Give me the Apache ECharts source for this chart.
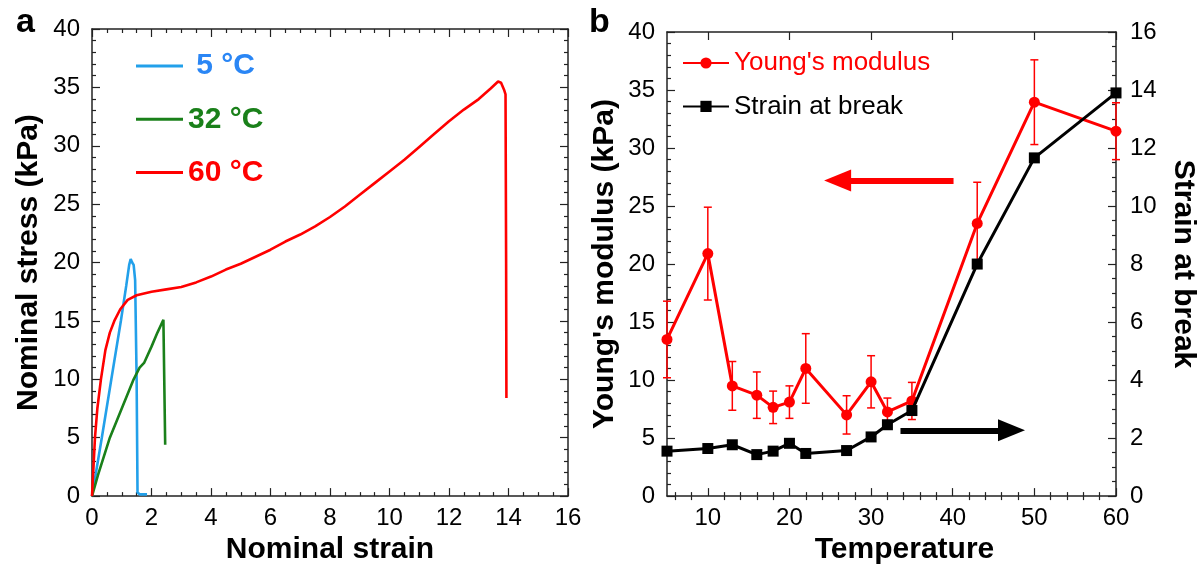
<!DOCTYPE html>
<html><head><meta charset="utf-8">
<script src="https://cdn.jsdelivr.net/npm/echarts@6/dist/echarts.min.js"></script>
<style>html,body{margin:0;padding:0;background:#fff}#c{width:1199px;height:570px}</style>
</head><body><div id="c"></div>
<script>
// ---------- Panel a: stress-strain curves ----------
const curve5C_strain  = [0, 0.1, 0.33, 0.65, 0.97, 1.15, 1.25, 1.3, 1.35, 1.4, 1.45, 1.5, 1.53, 1.6, 1.85];
const curve5C_stress  = [0, 1.5, 5, 10, 15, 18, 19.8, 20.3, 20.0, 19.8, 18.5, 10, 0.3, 0.15, 0.15];
const curve32C_strain = [0, 0.2, 0.6, 1.0, 1.4, 1.6, 1.75, 2.0, 2.2, 2.4, 2.46];
const curve32C_stress = [0, 1.8, 5, 7.5, 10, 11, 11.4, 12.8, 14, 15.1, 4.4];
const curve60C_strain = [0, 0.05, 0.1, 0.18, 0.3, 0.45, 0.6, 0.75, 0.95, 1.2, 1.5, 2, 2.5, 3, 3.5, 4, 4.5, 5, 5.5, 6, 6.5, 7, 7.5, 8, 8.5, 9, 9.5, 10, 10.5, 11, 11.5, 12, 12.5, 13, 13.4, 13.65, 13.75, 13.85, 13.9, 13.92, 13.93];
const curve60C_stress = [0, 2.5, 5, 7.5, 10, 12.5, 14, 15, 16, 16.8, 17.2, 17.5, 17.7, 17.9, 18.3, 18.8, 19.4, 19.9, 20.5, 21.1, 21.8, 22.4, 23.1, 23.9, 24.8, 25.8, 26.8, 27.8, 28.8, 29.9, 31.0, 32.1, 33.1, 34.0, 34.9, 35.5, 35.4, 34.8, 34.4, 20, 8.4];
const curveNames = [' 5 °C', '32 °C', '60 °C'];

// ---------- Panel b: temperature dependence ----------
const temperature   = [5, 10, 13, 16, 18, 20, 22, 27, 30, 32, 35, 43, 50, 60];
const youngsModulus = [13.5, 20.9, 9.5, 8.7, 7.65, 8.1, 11.0, 7.0, 9.85, 7.25, 8.2, 23.5, 33.95, 31.45];
const youngsError   = [3.3, 4.0, 2.1, 2.0, 1.4, 1.4, 3.0, 1.65, 2.25, 1.2, 1.6, 3.55, 3.65, 2.45];
const strainAtBreak = [1.55, 1.64, 1.77, 1.43, 1.55, 1.82, 1.47, 1.57, 2.04, 2.46, 2.95, 8.0, 11.66, 13.9];
const tempMajorTicks = [10, 20, 30, 40, 50, 60];
const tempMinorTicks = [6, 8, 12, 14, 16, 18, 22, 24, 26, 28, 32, 34, 36, 38, 42, 44, 46, 48, 52, 54, 56, 58];
// annotation arrows (data coordinates: [temperature, value])
const redArrow   = [[40.1, 27.2], [25.9, 27.2]];   // on Young's modulus axis
const blackArrow = [[33.6, 2.27], [47.2, 2.27]];   // on strain-at-break axis

const FONT = "'Liberation Sans', Arial, sans-serif";
const zip = (a, b) => a.map((v, i) => [v, b[i]]);
const AXC = '#222';

function baseAxis(extra) {
  return Object.assign({
    axisLine: {show: true, onZero: false, lineStyle: {color: AXC, width: 1.5}},
    axisTick: {show: true, inside: true, length: 8, lineStyle: {color: AXC, width: 1.2}},
    minorTick: {show: true, length: 4, lineStyle: {color: AXC, width: 1.2}},
    splitLine: {show: false},
    axisLabel: {color: '#000', fontSize: 24, fontFamily: FONT},
    nameTextStyle: {color: '#000', fontSize: 30, fontWeight: 'bold', fontFamily: FONT}
  }, extra);
}

const chart = echarts.init(document.getElementById('c'), null, {renderer: 'canvas'});
const option = {
  animation: false,
  backgroundColor: '#fff',
  grid: [
    {left: 92, top: 29, width: 476, height: 475},
    {left: 667, top: 32, width: 451, height: 474}
  ],
  graphic: [
    {type: 'text', left: 16, top: 6, style: {text: 'a', font: 'bold 34px ' + FONT, fill: '#000'}},
    {type: 'text', left: 589, top: 6, style: {text: 'b', font: 'bold 34px ' + FONT, fill: '#000'}}
  ],
  legend: [
    {
      orient: 'vertical', left: 136, top: 50, padding: 0, icon: 'rect',
      itemWidth: 47, itemHeight: 3, itemGap: 21.3,
      selectedMode: false,
      data: [
        {name: curveNames[0], textStyle: {color: '#2a86f5'}},
        {name: curveNames[1], textStyle: {color: '#1a801a'}},
        {name: curveNames[2], textStyle: {color: '#ff0000'}}
      ],
      textStyle: {fontSize: 30, fontWeight: 'bold', fontFamily: FONT, lineHeight: 32}
    },
    {
      orient: 'vertical', left: 682, top: 49, padding: 0,
      itemWidth: 46, itemHeight: 14, itemGap: 15.4,
      selectedMode: false,
      data: [
        {name: "Young's modulus", textStyle: {color: '#ff0000'}},
        {name: 'Strain at break', textStyle: {color: '#000'}}
      ],
      textStyle: {fontSize: 26, fontFamily: FONT, lineHeight: 28}
    }
  ],
  xAxis: [
    baseAxis({gridIndex: 0, type: 'value', position: 'bottom', min: 0, max: 16, interval: 2,
      minorTick: {show: true, splitNumber: 4, length: 4, lineStyle: {color: AXC, width: 1.2}},
      axisLabel: {color: '#000', fontSize: 24, fontFamily: FONT, margin: 10},
      name: 'Nominal strain', nameLocation: 'middle', nameGap: 36}),
    baseAxis({gridIndex: 0, type: 'value', position: 'top', min: 0, max: 16, interval: 2,
      minorTick: {show: true, splitNumber: 4, length: 4, lineStyle: {color: AXC, width: 1.2}},
      axisLabel: {show: false}}),
    baseAxis({gridIndex: 1, type: 'value', position: 'bottom', min: 5, max: 60,
      axisTick: {show: true, inside: true, length: 8, customValues: tempMajorTicks, lineStyle: {color: AXC, width: 1.2}},
      minorTick: {show: false},
      axisLabel: {color: '#000', fontSize: 24, fontFamily: FONT, margin: 10, customValues: tempMajorTicks},
      name: 'Temperature', nameLocation: 'middle', nameGap: 36,
      nameTextStyle: {color: '#000', fontSize: 30, fontWeight: 'bold', fontFamily: FONT, padding: [0, 0, 0, 26]}}),
    baseAxis({gridIndex: 1, type: 'value', position: 'bottom', min: 5, max: 60,
      axisLine: {show: false},
      axisTick: {show: true, inside: true, length: 4, customValues: tempMinorTicks, lineStyle: {color: AXC, width: 1.2}},
      minorTick: {show: false}, axisLabel: {show: false}}),
    baseAxis({gridIndex: 1, type: 'value', position: 'top', min: 5, max: 60,
      axisTick: {show: true, inside: true, length: 8, customValues: tempMajorTicks, lineStyle: {color: AXC, width: 1.2}},
      minorTick: {show: false}, axisLabel: {show: false}}),
    baseAxis({gridIndex: 1, type: 'value', position: 'top', min: 5, max: 60,
      axisLine: {show: false},
      axisTick: {show: true, inside: true, length: 4, customValues: tempMinorTicks, lineStyle: {color: AXC, width: 1.2}},
      minorTick: {show: false}, axisLabel: {show: false}})
  ],
  yAxis: [
    baseAxis({gridIndex: 0, type: 'value', position: 'left', min: 0, max: 40, interval: 5,
      minorTick: {show: true, splitNumber: 5, length: 4, lineStyle: {color: AXC, width: 1.2}},
      axisLabel: {color: '#000', fontSize: 24, fontFamily: FONT, margin: 12},
      name: 'Nominal stress (kPa)', nameLocation: 'middle', nameGap: 48}),
    baseAxis({gridIndex: 0, type: 'value', position: 'right', min: 0, max: 40, interval: 5,
      minorTick: {show: true, splitNumber: 5, length: 4, lineStyle: {color: AXC, width: 1.2}},
      axisLabel: {show: false}}),
    baseAxis({gridIndex: 1, type: 'value', position: 'left', min: 0, max: 40, interval: 5,
      minorTick: {show: true, splitNumber: 5, length: 4, lineStyle: {color: AXC, width: 1.2}},
      axisLabel: {color: '#000', fontSize: 24, fontFamily: FONT, margin: 12},
      name: "Young's modulus (kPa)", nameLocation: 'middle', nameGap: 47}),
    baseAxis({gridIndex: 1, type: 'value', position: 'right', min: 0, max: 16, interval: 2,
      minorTick: {show: true, splitNumber: 4, length: 4, lineStyle: {color: AXC, width: 1.2}},
      axisLabel: {color: '#000', fontSize: 24, fontFamily: FONT, margin: 14},
      name: 'Strain at break', nameLocation: 'middle', nameGap: 52, nameRotate: -90})
  ],
  series: [
    {name: curveNames[0], type: 'line', xAxisIndex: 0, yAxisIndex: 0, symbol: 'none', smooth: false,
      data: zip(curve5C_strain, curve5C_stress), color: '#22a0ea', lineStyle: {width: 2.6, color: '#22a0ea'}},
    {name: curveNames[1], type: 'line', xAxisIndex: 0, yAxisIndex: 0, symbol: 'none',
      data: zip(curve32C_strain, curve32C_stress), color: '#1a801a', lineStyle: {width: 2.6, color: '#1a801a'}},
    {name: curveNames[2], type: 'line', xAxisIndex: 0, yAxisIndex: 0, symbol: 'none',
      data: zip(curve60C_strain, curve60C_stress), color: '#ff0000', lineStyle: {width: 2.6, color: '#ff0000'}},
    {name: 'errors', type: 'custom', xAxisIndex: 2, yAxisIndex: 2, clip: false, z: 3,
      data: temperature.map((t, i) => [t, youngsModulus[i] - youngsError[i], youngsModulus[i] + youngsError[i]]),
      encode: {x: 0, y: [1, 2]},
      renderItem: function (params, api) {
        const x = api.value(0);
        const p1 = api.coord([x, api.value(2)]);
        const p2 = api.coord([x, api.value(1)]);
        const w = 4;
        const st = {stroke: '#ff0000', lineWidth: 1.5};
        return {type: 'group', children: [
          {type: 'line', shape: {x1: p1[0], y1: p1[1], x2: p2[0], y2: p2[1]}, style: st},
          {type: 'line', shape: {x1: p1[0] - w, y1: p1[1], x2: p1[0] + w, y2: p1[1]}, style: st},
          {type: 'line', shape: {x1: p2[0] - w, y1: p2[1], x2: p2[0] + w, y2: p2[1]}, style: st}
        ]};
      }},
    {name: "Young's modulus", type: 'line', xAxisIndex: 2, yAxisIndex: 2, z: 4,
      data: zip(temperature, youngsModulus), symbol: 'circle', symbolSize: 11, clip: false,
      color: '#ff0000', lineStyle: {width: 3, color: '#ff0000'}, itemStyle: {color: '#ff0000'},
      markLine: {silent: true, symbol: ['none', 'triangle'], symbolSize: [22, 27], label: {show: false},
        lineStyle: {type: 'solid', width: 6, color: '#ff0000'},
        data: [[{coord: redArrow[0]}, {coord: redArrow[1]}]]}},
    {name: 'Strain at break', type: 'line', xAxisIndex: 2, yAxisIndex: 3, z: 5,
      data: zip(temperature, strainAtBreak), symbol: 'rect', symbolSize: 11, clip: false,
      color: '#000', lineStyle: {width: 3, color: '#000'}, itemStyle: {color: '#000'},
      markLine: {silent: true, symbol: ['none', 'triangle'], symbolSize: [22, 27], label: {show: false},
        lineStyle: {type: 'solid', width: 6, color: '#000'},
        data: [[{coord: blackArrow[0]}, {coord: blackArrow[1]}]]}}
  ]
};
chart.setOption(option);
</script>
</body></html>
